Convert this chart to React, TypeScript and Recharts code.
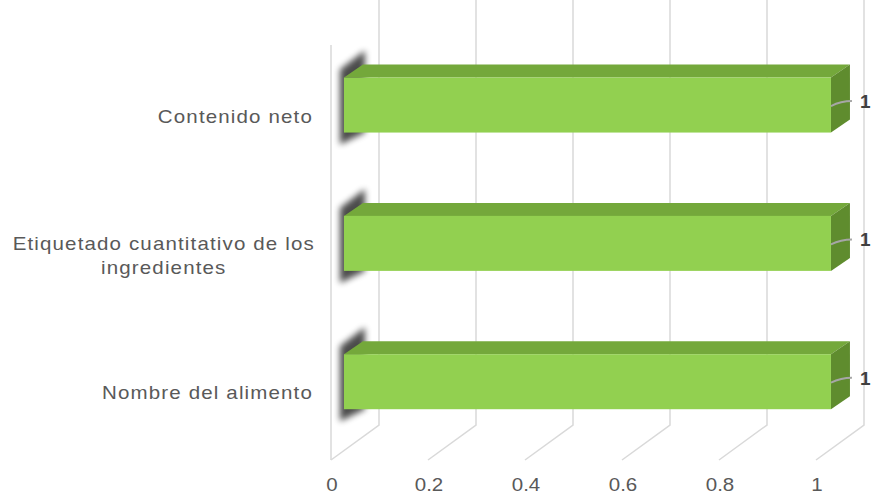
import React from 'react';
import { BarChart, Bar, XAxis, YAxis, CartesianGrid, LabelList } from 'recharts';

const categories = ['Contenido neto', 'Etiquetado cuantitativo de los ingredientes', 'Nombre del alimento'];
const values = [1, 1, 1];
const xTicks = [0, 0.2, 0.4, 0.6, 0.8, 1];

const chartData = categories.map((name, i) => ({ name, value: values[i] }));

// 3D look
const DEPTH_X = 48;
const DEPTH_Y = 35;
const FRONT = 0.27; // bar front face depth fraction
const BAR_DX = 19;
const BAR_DY = 13;

const FONT = '"Liberation Sans", Arial, sans-serif';
const TEXT = '#595959';
const GRID = '#d9d9d9';
const STRETCH = 1.14;

const wrap = (s: string, max = 30) => {
    const words = s.split(' ');
    const lines: string[] = [];
    let cur = '';
    words.forEach(w => {
        const next = cur ? cur + ' ' + w : w;
        if (next.length > max && cur) {
            lines.push(cur);
            cur = w;
        } else cur = next;
    });
    if (cur) lines.push(cur);
    return lines;
};

const GridLine = (props: any) => {
    const { x1, y1, y2, index } = props;
    const bx = x1 + DEPTH_X;
    const by = y2 - DEPTH_Y;
    return (
        <g key={`g-${index}`}>
            <path d={`M${bx},0 L${bx},${by} L${x1},${y2}`} stroke={GRID} strokeWidth={1.5} fill="none" />
            {index === 0 && <line x1={x1} y1={y1} x2={x1} y2={y2} stroke={GRID} strokeWidth={1.5} />}
        </g>
    );
};

const Bar3D = (props: any) => {
    const { x, y, width, height } = props;
    const fx = x + DEPTH_X * FRONT;
    const fy = y - DEPTH_Y * FRONT;
    const rx = fx + width + 2;
    const h = height;
    return (
        <g>
            <polygon
                points={`${fx - 4},${fy - 8} ${fx + BAR_DX + 2},${fy - BAR_DY - 14} ${fx + BAR_DX + 2},${fy + h} ${fx - 4},${fy + h + 12}`}
                fill="#000"
                opacity={0.7}
                filter="url(#shadowBlur)"
            />
            <polygon
                points={`${fx},${fy} ${fx + BAR_DX},${fy - BAR_DY} ${rx + BAR_DX},${fy - BAR_DY} ${rx},${fy}`}
                fill="#74a83b"
            />
            <polygon
                points={`${rx},${fy} ${rx + BAR_DX},${fy - BAR_DY} ${rx + BAR_DX},${fy + h - BAR_DY} ${rx},${fy + h}`}
                fill="#5f8c2e"
            />
            <rect x={fx} y={fy} width={rx - fx} height={h} fill="#92d050" />
        </g>
    );
};

const DataLabel = (props: any) => {
    const { x, y, width, height, value } = props;
    const rx = x + DEPTH_X * FRONT + width + 2;
    const cy = y - DEPTH_Y * FRONT + height / 2;
    return (
        <g>
            <path
                d={`M${rx},${cy + 1} Q${rx + 10},${cy - 4} ${rx + 21},${cy - 4}`}
                stroke="#a6a6a6"
                strokeWidth={2}
                fill="none"
            />
            <text
                x={rx + 29}
                y={cy - 4}
                dy="0.36em"
                fill="#404040"
                fontFamily={FONT}
                fontSize={19}
                fontWeight="bold"
            >
                {value}
            </text>
        </g>
    );
};

const XTick = (props: any) => {
    const { x, payload } = props;
    return (
        <g transform={`translate(${x + 1},491) scale(${STRETCH},1)`}>
            <text x={0} y={0} textAnchor="middle" fill={TEXT} fontFamily={FONT} fontSize={18}>
                {String(payload.value)}
            </text>
        </g>
    );
};

const YTick = (props: any) => {
    const { y, payload } = props;
    const lines = wrap(payload.value);
    const right = 313;
    if (lines.length === 1) {
        return (
            <g transform={`translate(${right},${y + 2}) scale(${STRETCH},1)`}>
                <text x={0} y={0} dy="0.36em" textAnchor="end" fill={TEXT} fontFamily={FONT} fontSize={18} letterSpacing={1}>
                    {lines[0]}
                </text>
            </g>
        );
    }
    const longest = Math.max(...lines.map(l => l.length));
    const cx = right - (longest * 9.95) / 2;
    const lh = 24;
    const start = 3 - ((lines.length - 1) * lh) / 2;
    return (
        <g transform={`translate(${cx},${y}) scale(${STRETCH},1)`}>
            <text textAnchor="middle" fill={TEXT} fontFamily={FONT} fontSize={18} letterSpacing={1}>
                {lines.map((l, i) => (
                    <tspan key={i} x={0} y={start + i * lh} dy="0.36em">
                        {l}
                    </tspan>
                ))}
            </text>
        </g>
    );
};

export default function App() {
    return (
        <div style={{ position: 'absolute', left: 0, top: 0, background: '#fff' }}>
            <BarChart
                width={871}
                height={495}
                data={chartData}
                layout="vertical"
                margin={{ top: 45, right: 55, bottom: 0, left: 0 }}
            >
                <defs>
                    <filter id="shadowBlur" x="-50%" y="-50%" width="200%" height="200%">
                        <feGaussianBlur stdDeviation="3" />
                    </filter>
                </defs>
                <CartesianGrid horizontal={false} vertical={GridLine} />
                <XAxis
                    type="number"
                    domain={[0, 1]}
                    ticks={xTicks}
                    axisLine={false}
                    tickLine={false}
                    height={35}
                    tick={<XTick />}
                    interval={0}
                />
                <YAxis
                    type="category"
                    dataKey="name"
                    width={331}
                    axisLine={false}
                    tickLine={false}
                    tick={<YTick />}
                    interval={0}
                />
                <Bar dataKey="value" barSize={55} shape={<Bar3D />} isAnimationActive={false}>
                    <LabelList dataKey="value" content={<DataLabel />} />
                </Bar>
            </BarChart>
        </div>
    );
}
